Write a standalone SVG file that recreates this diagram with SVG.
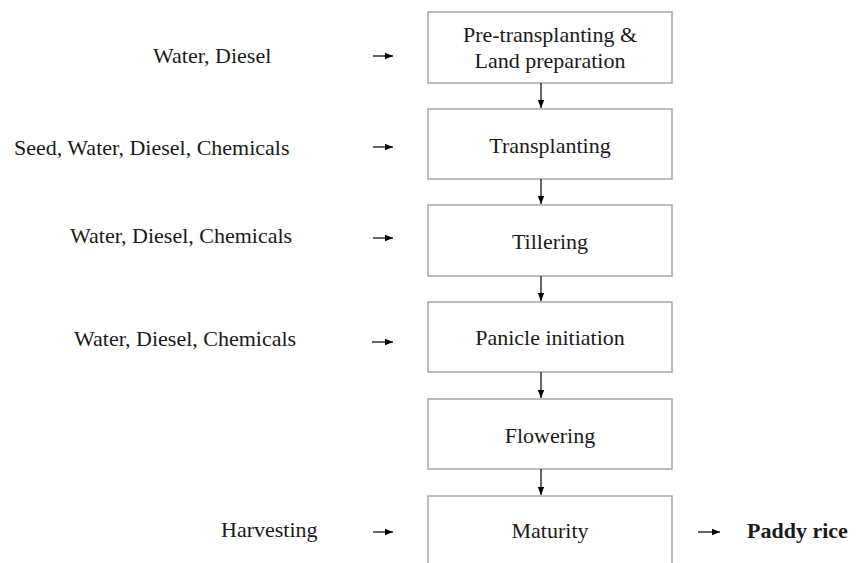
<svg xmlns="http://www.w3.org/2000/svg" width="861" height="563" viewBox="0 0 861 563">
<defs>
<style>
.box{fill:#fff;stroke:#a6a6a6;stroke-width:1.5}
.t{font-family:"Liberation Serif","Times New Roman",serif;font-size:22px;fill:#1a1a1a}
.c{text-anchor:middle}
.b{font-weight:bold}
.ln{stroke:#000;stroke-width:1.2;fill:none}
</style>
<marker id="ah" viewBox="0 0 10 10" refX="10" refY="5" markerWidth="8" markerHeight="8" markerUnits="userSpaceOnUse" orient="auto">
<path d="M0,1 L10,5 L0,9 Z" fill="#000"/>
</marker>
</defs>
<rect width="861" height="563" fill="#fff"/>
<g id="n1"><rect class="box" x="428" y="12" width="244" height="71"/><text class="t c" x="550" y="42">Pre-transplanting &amp;</text><text class="t c" x="550" y="68">Land preparation</text></g>
<g id="n2"><rect class="box" x="428" y="109" width="244" height="70"/><text class="t c" x="550" y="153">Transplanting</text></g>
<g id="n3"><rect class="box" x="428" y="205" width="244" height="71"/><text class="t c" x="550" y="249">Tillering</text></g>
<g id="n4"><rect class="box" x="428" y="302" width="244" height="70"/><text class="t c" x="550" y="345">Panicle initiation</text></g>
<g id="n5"><rect class="box" x="428" y="399" width="244" height="70"/><text class="t c" x="550" y="443">Flowering</text></g>
<g id="n6"><rect class="box" x="428" y="496" width="244" height="80"/><text class="t c" x="550" y="538">Maturity</text></g>
<g id="in1"><text class="t" x="153" y="63">Water, Diesel</text></g>
<g id="in2"><text class="t" x="14" y="155">Seed, Water, Diesel, Chemicals</text></g>
<g id="in3"><text class="t" x="70" y="243">Water, Diesel, Chemicals</text></g>
<g id="in4"><text class="t" x="74" y="346">Water, Diesel, Chemicals</text></g>
<g id="in5"><text class="t" x="221" y="537">Harvesting</text></g>
<g id="out"><text class="t b" x="747" y="538">Paddy rice</text></g>
<g id="connectors">
<line class="ln" x1="541" y1="83" x2="541" y2="108" marker-end="url(#ah)"/>
<line class="ln" x1="541" y1="179" x2="541" y2="204" marker-end="url(#ah)"/>
<line class="ln" x1="541" y1="276" x2="541" y2="301" marker-end="url(#ah)"/>
<line class="ln" x1="541" y1="372" x2="541" y2="398" marker-end="url(#ah)"/>
<line class="ln" x1="541" y1="469" x2="541" y2="495" marker-end="url(#ah)"/>
<line class="ln" x1="373" y1="56" x2="393" y2="56" marker-end="url(#ah)"/>
<line class="ln" x1="373" y1="147" x2="393" y2="147" marker-end="url(#ah)"/>
<line class="ln" x1="373" y1="238" x2="393" y2="238" marker-end="url(#ah)"/>
<line class="ln" x1="372" y1="342" x2="393" y2="342" marker-end="url(#ah)"/>
<line class="ln" x1="373" y1="532" x2="393" y2="532" marker-end="url(#ah)"/>
<line class="ln" x1="698" y1="532" x2="720" y2="532" marker-end="url(#ah)"/>
</g>
</svg>
